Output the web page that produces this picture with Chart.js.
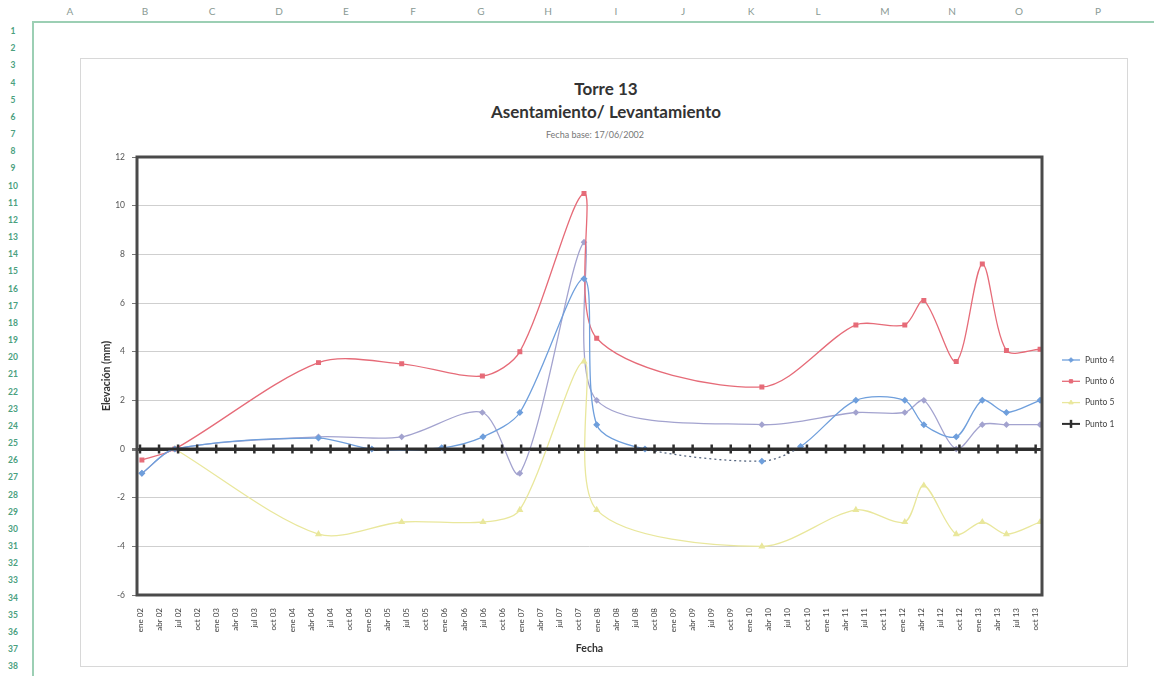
<!DOCTYPE html>
<html><head><meta charset="utf-8">
<script src="https://cdn.jsdelivr.net/npm/chart.js@4.4.0/dist/chart.umd.min.js"></script>
<style>
html,body{margin:0;padding:0;background:#fff;width:1154px;height:676px;overflow:hidden;font-family:Lato,"Liberation Sans",sans-serif;}
.col{position:absolute;top:5px;font-size:10px;color:#8a9a94;transform:translateX(-50%);}
.row{position:absolute;left:2px;width:22px;text-align:center;font-size:8.5px;color:#4aa07e;font-weight:bold;transform:translateY(-50%);}
#hline{position:absolute;left:32px;top:21px;width:1122px;height:2px;background:#9ccfb4;}
#vline{position:absolute;left:32px;top:21px;width:2px;height:655px;background:#9ccfb4;}
#frame{position:absolute;left:80px;top:58px;width:1046px;height:607px;border:1px solid #d8d8d8;}
#chartBox{position:absolute;left:80px;top:58px;width:1048px;height:609px;}
.t{position:absolute;left:306px;width:600px;text-align:center;transform:translateY(-50%);color:#333;}
</style></head>
<body>
<div id="hline"></div><div id="vline"></div>
<div id="frame"></div>
<div class="t" style="top:88px;font-size:17px;font-weight:bold;">Torre 13</div>
<div class="t" style="top:111px;font-size:17px;font-weight:bold;">Asentamiento/ Levantamiento</div>
<div class="t" style="top:134px;left:295px;font-size:9px;color:#777;">Fecha base: 17/06/2002</div>
<div id="chartBox"><canvas id="c" width="1048" height="609"></canvas></div>
<script>
// Spreadsheet frame texts
const columnLetters = ['A','B','C','D','E','F','G','H','I','J','K','L','M','N','O','P'];
const columnX = [70,145,212,279,346,413,481,548,616,683,751,818,885,952,1019,1098];
columnLetters.forEach((l,i)=>{const d=document.createElement('div');d.className='col';d.style.left=columnX[i]+'px';d.textContent=l;document.body.appendChild(d);});
for(let r=1;r<=38;r++){const d=document.createElement('div');d.className='row';d.style.top=(31+(r-1)*17.17)+'px';d.textContent=r;document.body.appendChild(d);}

// X tick labels (quarterly)
const tickLabels = ['ene 02','abr 02','jul 02','oct 02','ene 03','abr 03','jul 03','oct 03','ene 04','abr 04','jul 04','oct 04',
 'ene 05','abr 05','jul 05','oct 05','ene 06','abr 06','jul 06','oct 06','ene 07','abr 07','jul 07','oct 07',
 'ene 08','abr 08','jul 08','oct 08','ene 09','abr 09','jul 09','oct 09','ene 10','abr 10','jul 10','oct 10',
 'ene 11','abr 11','jul 11','oct 11','ene 12','abr 12','jul 12','oct 12','ene 13','abr 13','jul 13','oct 13'];

// Data: x = months since Jan 2002, y = elevation (mm)
const punto4Mes = [0.3, 5.5, 28.1, 36.5, 47.5, 54.0, 59.8, 69.9, 71.9, 79.5, 97.9, 104.0, 112.7, 120.4, 123.4, 128.5, 132.6, 136.4, 141.7];
const punto4Val = [-1.0, 0.0, 0.45, 0.0, 0.05, 0.5, 1.5, 7.0, 1.0, 0.0, -0.5, 0.1, 2.0, 2.0, 1.0, 0.5, 2.0, 1.5, 2.0];
const punto6Mes = [0.3, 5.5, 28.1, 41.2, 53.9, 59.8, 69.9, 71.9, 97.9, 112.7, 120.4, 123.4, 128.5, 132.6, 136.4, 141.7];
const punto6Val = [-0.45, 0.0, 3.55, 3.5, 3.0, 4.0, 10.5, 4.55, 2.55, 5.1, 5.1, 6.1, 3.6, 7.6, 4.05, 4.1];
const punto5Mes = [5.5, 28.1, 41.2, 54.0, 59.8, 69.9, 71.9, 97.9, 112.7, 120.4, 123.4, 128.5, 132.6, 136.4, 141.7];
const punto5Val = [0.0, -3.5, -3.0, -3.0, -2.5, 3.6, -2.5, -4.0, -2.5, -3.0, -1.5, -3.5, -3.0, -3.5, -3.0];
const punto1Val = [0,0,0,0,0,0,0,0,0,0,0,0,0,0,0,0,0,0,0,0,0,0,0,0,0,0,0,0,0,0,0,0,0,0,0,0,0,0,0,0,0,0,0,0,0,0,0,0];
const otroMes = [0.3, 5.5, 28.1, 41.2, 53.9, 59.8, 69.9, 71.9, 97.9, 112.7, 120.4, 123.4, 128.5, 132.6, 136.4, 141.7];
const otroVal = [-1.0, 0.0, 0.5, 0.5, 1.5, -1.0, 8.5, 2.0, 1.0, 1.5, 1.5, 2.0, 0.0, 1.0, 1.0, 1.0];

const pts = (xs, ys) => xs.map((x,i)=>({x:x, y:ys[i]}));
const tickMonths = tickLabels.map((l,i)=>i*3);

const datasets = [
  {label:'Punto 1', data:pts(tickMonths,punto1Val), borderColor:'#2e2e2e', backgroundColor:'#2e2e2e', borderWidth:3,
   pointStyle:'line', pointRotation:90, pointRadius:4.5, pointBorderWidth:2.5, tension:0},
  {label:'Punto 4', data:pts(punto4Mes,punto4Val), borderColor:'#6f9fdc', backgroundColor:'#6f9fdc', borderWidth:1.3,
   pointStyle:'rectRot', pointRadius:2.6, tension:0.3,
   segment:{borderDash:c=>(c.p0.parsed.x>=79 && c.p1.parsed.x<=105)?[2,3]:undefined,
            borderColor:c=>(c.p0.parsed.x>=79 && c.p1.parsed.x<=105)?'#55657f':undefined}},
  {label:'Punto 6', data:pts(punto6Mes,punto6Val), borderColor:'#e66b78', backgroundColor:'#e66b78', borderWidth:1.3,
   pointStyle:'rect', pointRadius:2.6, tension:0.3},
  {label:'Punto 5', data:pts(punto5Mes,punto5Val), borderColor:'#e9e79c', backgroundColor:'#e9e79c', borderWidth:1.3,
   pointStyle:'triangle', pointRadius:2.8, tension:0.3},
  {label:'Punto 3', data:pts(otroMes,otroVal), borderColor:'#a3a3cf', backgroundColor:'#a3a3cf', borderWidth:1.3,
   pointStyle:'rectRot', pointRadius:2.4, tension:0.3}
];
const legendOrder = ['Punto 4','Punto 6','Punto 5','Punto 1'];

const framePlugin = {
  id:'frame',
  afterDatasetsDraw(chart){
    const {ctx, chartArea:a} = chart;
    ctx.save(); ctx.strokeStyle='#4a4a4a'; ctx.lineWidth=3;
    ctx.strokeRect(a.left, a.top, a.right-a.left, a.bottom-a.top);
    ctx.restore();
  }
};
const legendPlugin = {
  id:'customLegend',
  afterDraw(chart){
    const ctx = chart.ctx, a = chart.chartArea;
    const x0 = a.right + 20;
    legendOrder.forEach((name,i)=>{
      const ds = chart.data.datasets.find(d=>d.label===name);
      const y = 302 + i*21.3;
      ctx.save();
      ctx.strokeStyle = ds.borderColor; ctx.fillStyle = ds.backgroundColor;
      ctx.lineWidth = Math.min(ds.borderWidth,2);
      ctx.beginPath(); ctx.moveTo(x0, y); ctx.lineTo(x0+18, y); ctx.stroke();
      ctx.lineWidth = ds.pointBorderWidth || 1;
      Chart.helpers.drawPoint(ctx, {pointStyle:ds.pointStyle, rotation:ds.pointRotation||0, radius:ds.pointRadius*0.9, borderWidth:ctx.lineWidth}, x0+9, y);
      ctx.fillStyle = '#444'; ctx.font = '8.5px Lato'; ctx.textBaseline='middle';
      ctx.fillText(name, x0+23, y);
      ctx.restore();
    });
  }
};

new Chart(document.getElementById('c'), {
  type:'line',
  data:{datasets},
  plugins:[framePlugin, legendPlugin],
  options:{
    responsive:false, animation:false,
    layout:{padding:{left:0, right:86, top:99, bottom:0}},
    plugins:{legend:{display:false}, tooltip:{enabled:false}},
    scales:{
      x:{type:'linear', min:-0.47, max:142,
        afterBuildTicks(s){ s.ticks = tickMonths.map(v=>({value:v})); },
        afterFit(s){ s.height = 72; },
        grid:{display:false}, border:{display:false},
        ticks:{autoSkip:false, minRotation:90, maxRotation:90, padding:5, color:'#444',
               font:{family:'Lato', size:8}, callback:(v,i)=>tickLabels[i]},
        title:{display:true, text:'Fecha', color:'#333', font:{family:'Lato', size:10.5, weight:'bold'}, padding:{top:0,bottom:12}}
      },
      y:{min:-6, max:12,
        afterFit(s){ s.width = 57; },
        ticks:{stepSize:2, color:'#555', padding:7, font:{family:'Lato', size:8.5}},
        grid:{color:c=>c.tick && c.tick.value===0 ? '#333' : '#cfcfcf', lineWidth:c=>c.tick && c.tick.value===0 ? 3 : 1,
              tickLength:5, tickColor:'#777'},
        border:{display:false},
        title:{display:true, text:'Elevación (mm)', color:'#333', font:{family:'Lato', size:10.5, weight:'bold'}, padding:{top:20,bottom:0}}
      }
    }
  }
});
</script>
</body></html>
